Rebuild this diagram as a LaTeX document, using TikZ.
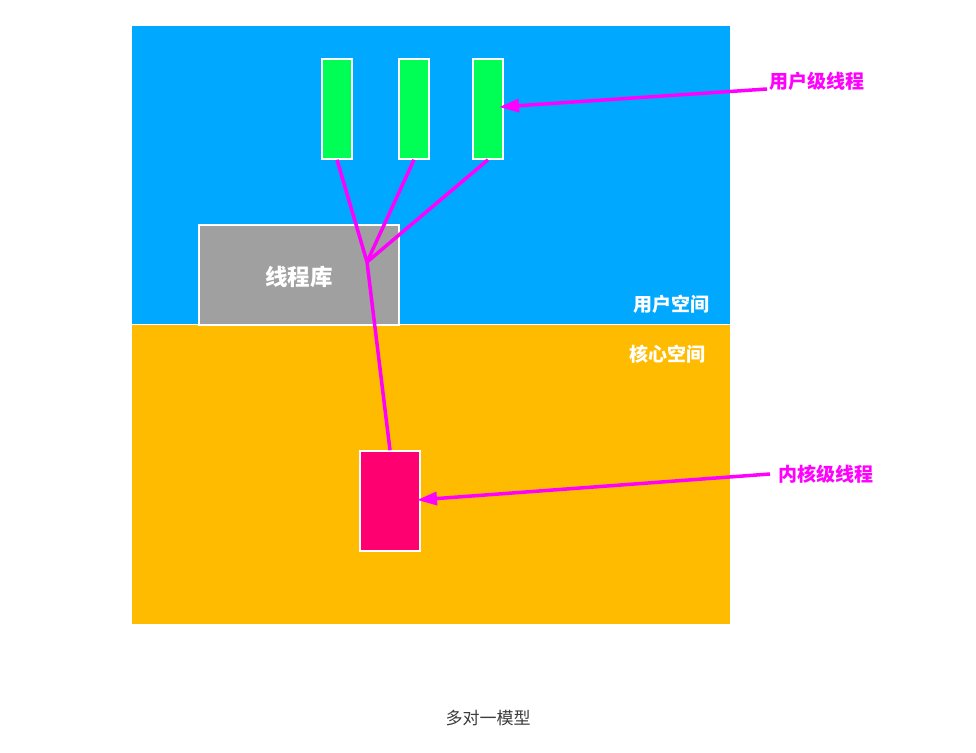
\documentclass[tikz,border=0pt]{standalone}
\usepackage{fontspec}
\setmainfont{Noto Sans CJK SC}
\usetikzlibrary{arrows.meta}
\definecolor{userblue}{RGB}{0,168,255}
\definecolor{kernorange}{RGB}{255,187,0}
\definecolor{thgreen}{RGB}{0,255,85}
\definecolor{libgray}{RGB}{160,160,160}
\definecolor{kred}{RGB}{255,0,112}
\definecolor{mag}{RGB}{255,0,255}
\definecolor{captiongray}{RGB}{60,60,60}
\tikzset{
  thread/.style={draw=white, line width=1.5pt, fill=thgreen, minimum width=30pt, minimum height=100pt, inner sep=0pt},
  kthread/.style={draw=white, line width=1.5pt, fill=kred, minimum width=60pt, minimum height=100pt, inner sep=0pt},
  lib/.style={draw=white, line width=1.5pt, fill=libgray, minimum width=200pt, minimum height=100pt, inner sep=0pt},
  link/.style={mag, line width=3.5pt},
  pointer/.style={mag, line width=3.5pt, -{Triangle[length=20pt,width=13pt]}},
  whitelbl/.style={text=white, font=\bfseries\fontsize{19}{22}\selectfont, inner sep=0pt},
  maglbl/.style={text=mag, font=\bfseries\fontsize{19}{22}\selectfont, inner sep=0pt, anchor=west},
}
\begin{document}
\begin{tikzpicture}[x=1pt,y=-1pt]
\useasboundingbox (0,0) rectangle (976,752);
\fill[white] (0,0) rectangle (976,752);
\fill[userblue] (132,26) rectangle (730,324);
\fill[kernorange] (132,325) rectangle (730,624);
\node[lib] (lib) at (299,275) {};
\node[whitelbl, font=\bfseries\fontsize{22.5}{26}\selectfont] (libtxt) at (299,277) {线程库};
\node[thread] (t1) at (337,109) {};
\node[thread] (t2) at (414,109) {};
\node[thread] (t3) at (488,109) {};
\node[kthread] (k) at (390,501) {};
\coordinate (j) at (367,262);
\draw[link] (t1.south) -- (j);
\draw[link] (t2.south) -- (j);
\draw[link] (t3.south) -- (j);
\draw[link] (j) -- (k.north);
\node[whitelbl] (us) at (671,304) {用户空间};
\node[whitelbl] (ks) at (667,354) {核心空间};
\node[maglbl] (ul) at (769,81) {用户级线程};
\node[maglbl] (kl) at (778,474) {内核级线程};
\coordinate (ua) at (767,89);
\coordinate (ka) at (770,474);
\coordinate (ut) at (499,107);
\coordinate (kt) at (417,500);
\draw[pointer] (ua) -- (ut);
\draw[pointer] (ka) -- (kt);
\node[text=captiongray, font=\fontsize{17}{20}\selectfont] (cap) at (488,718) {多对一模型};
\end{tikzpicture}
\end{document}
